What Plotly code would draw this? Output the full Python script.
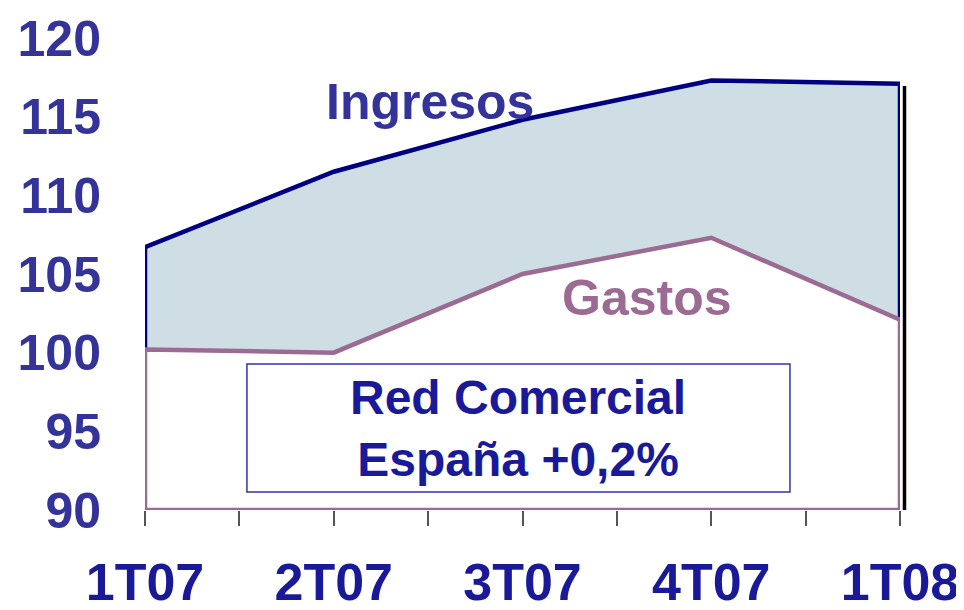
import plotly.graph_objects as go

categories = ["1T07", "2T07", "3T07", "4T07", "1T08"]
ingresos = [106.7, 111.5, 114.8, 117.3, 117.1]
gastos = [100.2, 100.0, 105.0, 107.3, 102.1]
y_ticks = [90, 95, 100, 105, 110, 115, 120]

NAVY = "#000080"
MAUVE = "#9c6b94"
FILL = "#cfdee5"
TXT = "#333399"
BOXTXT = "#1a1a99"
FONT = "Arial, Liberation Sans, sans-serif"

xs = list(range(len(categories)))
ymin = 90

fig = go.Figure()
fig.add_trace(go.Scatter(x=xs, y=gastos, mode="lines", line=dict(width=0),
                         showlegend=False, hoverinfo="skip"))
fig.add_trace(go.Scatter(x=xs, y=ingresos, mode="lines", line=dict(width=0),
                         fill="tonexty", fillcolor=FILL, showlegend=False, hoverinfo="skip"))
fig.add_trace(go.Scatter(x=[xs[0]] + xs + [xs[-1]],
                         y=[gastos[0]] + ingresos + [gastos[-1]],
                         mode="lines", line=dict(color=NAVY, width=4.5),
                         cliponaxis=False, showlegend=False, hoverinfo="skip"))
fig.add_trace(go.Scatter(x=[xs[0]] + xs + [xs[-1], xs[0]],
                         y=[ymin] + gastos + [ymin, ymin],
                         mode="lines", line=dict(color=MAUVE, width=4.5),
                         cliponaxis=False, showlegend=False, hoverinfo="skip"))

shapes = [
    dict(type="line", xref="paper", yref="y", xsizemode="pixel", xanchor=1,
         x0=4.5, x1=4.5, y0=ingresos[-1] - 0.15, y1=ymin,
         line=dict(color="black", width=3.5), layer="above"),
    dict(type="rect", xref="x", yref="y", x0=0.54, x1=3.417, y0=91.14, y1=99.28,
         line=dict(color="#3333aa", width=1.5), fillcolor="white", layer="above"),
]

annotations = [
    dict(x=1.51, y=115.93, xref="x", yref="y", text="<b>Ingresos</b>", showarrow=False,
         font=dict(family=FONT, size=50, color=TXT)),
    dict(x=2.66, y=103.5, xref="x", yref="y", text="<b>Gastos</b>", showarrow=False,
         font=dict(family=FONT, size=50, color=MAUVE)),
    dict(x=1.976, y=95.15, xref="x", yref="y",
         text="<b>Red Comercial</b><br><b>España +0,2%</b>", showarrow=False,
         font=dict(family=FONT, size=48, color=BOXTXT)),
]

tickvals = [i * 0.5 for i in range(2 * len(categories) - 1)]
ticktext = [categories[int(v)] if v == int(v) else "" for v in tickvals]

fig.update_layout(
    width=956, height=602,
    margin=dict(l=137, r=64, t=30, b=100),
    paper_bgcolor="white", plot_bgcolor="white",
    shapes=shapes, annotations=annotations,
    xaxis=dict(range=[0, 4], tickvals=tickvals, ticktext=ticktext,
               ticks="outside", ticklen=15, tickcolor="#555555", tickwidth=1.5,
               showgrid=False, zeroline=False, showline=False, automargin=False,
               tickfont=dict(family=FONT, size=52, color=BOXTXT, weight="bold"),
               ticklabelstandoff=12),
    yaxis=dict(range=[90, 120], tickvals=y_ticks, ticks="", automargin=False,
               showgrid=False, zeroline=False, showline=False,
               tickfont=dict(family=FONT, size=50, color=TXT, weight="bold"),
               ticklabelstandoff=43),
)

fig.write_html("out.html")
